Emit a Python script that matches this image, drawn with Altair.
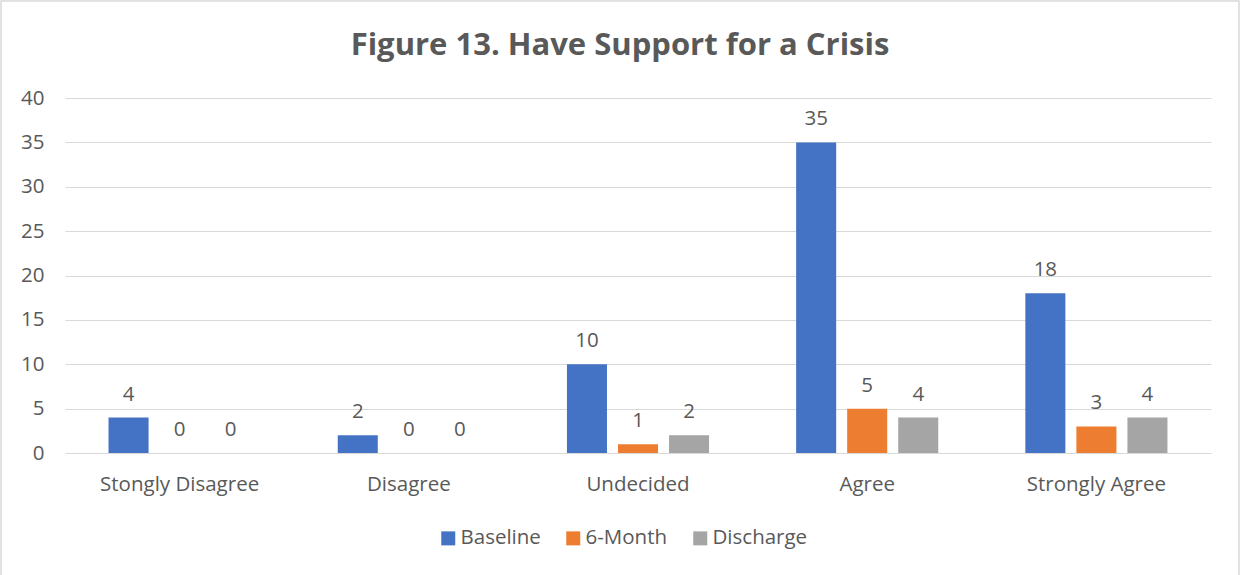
import altair as alt
import pandas as pd

categories = ["Stongly Disagree", "Disagree", "Undecided", "Agree", "Strongly Agree"]
series = ["Baseline", "6-Month", "Discharge"]
baseline = [4, 2, 10, 35, 18]
six_month = [0, 0, 1, 5, 3]
discharge = [0, 0, 2, 4, 4]
colors = ["#4472C4", "#ED7D31", "#A5A5A5"]

rows = []
for s, vals in zip(series, [baseline, six_month, discharge]):
    for c, v in zip(categories, vals):
        rows.append({"Category": c, "Series": s, "Value": v})
df = pd.DataFrame(rows)

FONT = "Open Sans"
TXT = "#595959"
FS = 20.5

x = alt.X("Category:N", sort=categories,
          scale=alt.Scale(paddingInner=0, paddingOuter=0),
          axis=alt.Axis(title=None, labelAngle=0, ticks=False, domain=False, grid=False,
                        labelPadding=21, labelFontSize=FS, labelColor=TXT,
                        labelFont=FONT))
xo = alt.XOffset("Series:N", sort=series,
                 scale=alt.Scale(paddingInner=0.2157, paddingOuter=0.853))
y = alt.Y("Value:Q", scale=alt.Scale(domain=[0, 40]),
          axis=alt.Axis(title=None, values=[0, 5, 10, 15, 20, 25, 30, 35, 40],
                        ticks=False, domain=False, gridColor="#D9D9D9",
                        gridWidth=1, labelPadding=21, labelFontSize=FS,
                        labelColor=TXT, labelFont=FONT))

border = alt.Chart(pd.DataFrame({"a": [0]})).mark_rect(
    fill="transparent", stroke="#D9D9D9", strokeWidth=1.5
).encode(x=alt.value(-64), x2=alt.value(1174), y=alt.value(-97), y2=alt.value(485))

bars = alt.Chart(df).mark_bar().encode(
    x=x, xOffset=xo, y=y,
    color=alt.Color("Series:N", sort=series,
                    scale=alt.Scale(domain=series, range=colors),
                    legend=alt.Legend(title=None, orient="none", direction="horizontal",
                                      legendX=373, legendY=430,
                                      symbolType="square", symbolSize=196,
                                      symbolStrokeWidth=0,
                                      labelFontSize=FS, labelColor=TXT,
                                      labelFont=FONT, columnPadding=22,
                                      labelOffset=2)),
)

labels = alt.Chart(df).mark_text(baseline="bottom", dy=-13, fontSize=FS,
                                 color=TXT, font=FONT).encode(
    x=x, xOffset=xo, y=y, text=alt.Text("Value:Q")
)

chart = alt.layer(border, bars, labels).properties(
    width=1146, height=355,
    title=alt.TitleParams("Figure 13. Have Support for a Crisis", fontSize=31,
                          font=FONT, fontWeight="bold", color=TXT,
                          anchor="middle", dx=-18, offset=-62),
    autosize=alt.AutoSizeParams(type="none"),
    padding={"left": 65, "top": 98, "right": 30, "bottom": 122},
).configure(background="white").configure_view(stroke="transparent", strokeWidth=0)

chart.save("out.html", embed_options={"renderer": "svg", "actions": False})
